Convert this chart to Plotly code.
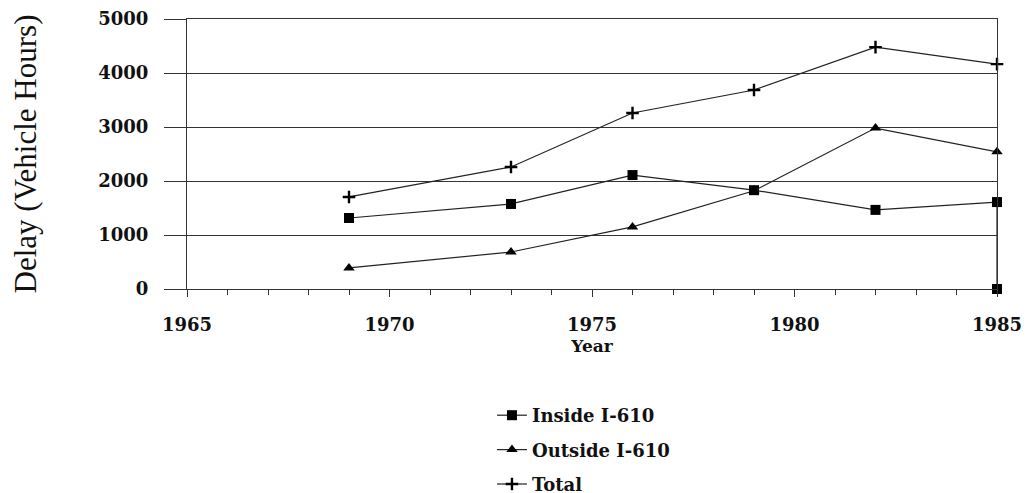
import plotly.graph_objects as go

years_inside = [1969, 1973, 1976, 1979, 1982, 1985, 1985]
inside = [1315, 1575, 2110, 1830, 1465, 1610, 0]

years_outside = [1969, 1973, 1976, 1979, 1982, 1985]
outside = [390, 685, 1150, 1820, 2980, 2540]

years_total = [1969, 1973, 1976, 1979, 1982, 1985]
total = [1705, 2260, 3260, 3685, 4480, 4165]

x_ticks = [1965, 1970, 1975, 1980, 1985]
y_ticks = [0, 1000, 2000, 3000, 4000, 5000]

tick_font = dict(family="DejaVu Serif", size=18, color="#111", weight="bold")
legend_font = dict(family="DejaVu Serif", size=18, color="#111", weight="bold")
line_col = "#222"

fig = go.Figure()
fig.add_trace(go.Scatter(
    x=years_inside, y=inside, name="Inside I-610", mode="lines+markers",
    line=dict(color=line_col, width=1.2),
    marker=dict(symbol="square", size=10, color="#000"),
    cliponaxis=False, legendgroup="a"))
fig.add_trace(go.Scatter(
    x=years_outside, y=outside, name="Outside I-610", mode="lines+markers",
    line=dict(color=line_col, width=1.2),
    marker=dict(symbol="triangle-up", size=10, color="#000"),
    cliponaxis=False, legendgroup="b"))
fig.add_trace(go.Scatter(
    x=years_total, y=total, name="Total", mode="lines+markers",
    line=dict(color=line_col, width=1.2),
    marker=dict(symbol="cross-thin", size=9, color="#000",
                line=dict(color="#000", width=2.4)),
    cliponaxis=False, legendgroup="c"))

fig.update_layout(
    width=1033, height=493,
    margin=dict(l=179, r=44, t=11, b=212, autoexpand=False),
    paper_bgcolor="white", plot_bgcolor="white",
    showlegend=True,
    legend=dict(x=0.3765, xanchor="left", y=-0.40, yanchor="top",
                font=legend_font, tracegroupgap=8, bgcolor="rgba(0,0,0,0)"),
    xaxis=dict(
        range=[1965, 1985], tickvals=x_ticks, showgrid=False,
        showline=True, linecolor="#333", linewidth=1, mirror=True,
        ticks="outside", ticklen=7, tickcolor="#333",
        minor=dict(dtick=1, ticks="outside", ticklen=5, tickcolor="#333"),
        tickfont=tick_font, ticklabelstandoff=12, automargin=False,
        title=dict(text="Year", font=dict(family="DejaVu Serif", size=17,
                                          color="#111", weight="bold"),
                   standoff=6),
        zeroline=False),
    yaxis=dict(
        range=[0, 5000], tickvals=y_ticks, showgrid=True,
        gridcolor="#333", gridwidth=1,
        showline=True, linecolor="#333", linewidth=1, mirror=True,
        ticks="outside", ticklen=22, tickcolor="#333",
        tickfont=tick_font,
        ticklabelstandoff=12, automargin=False,
        title=dict(text="Delay (Vehicle Hours)",
                   font=dict(family="Liberation Serif", size=31, color="#111"),
                   standoff=62),
        zeroline=False),
)

fig.write_html("out.html")
